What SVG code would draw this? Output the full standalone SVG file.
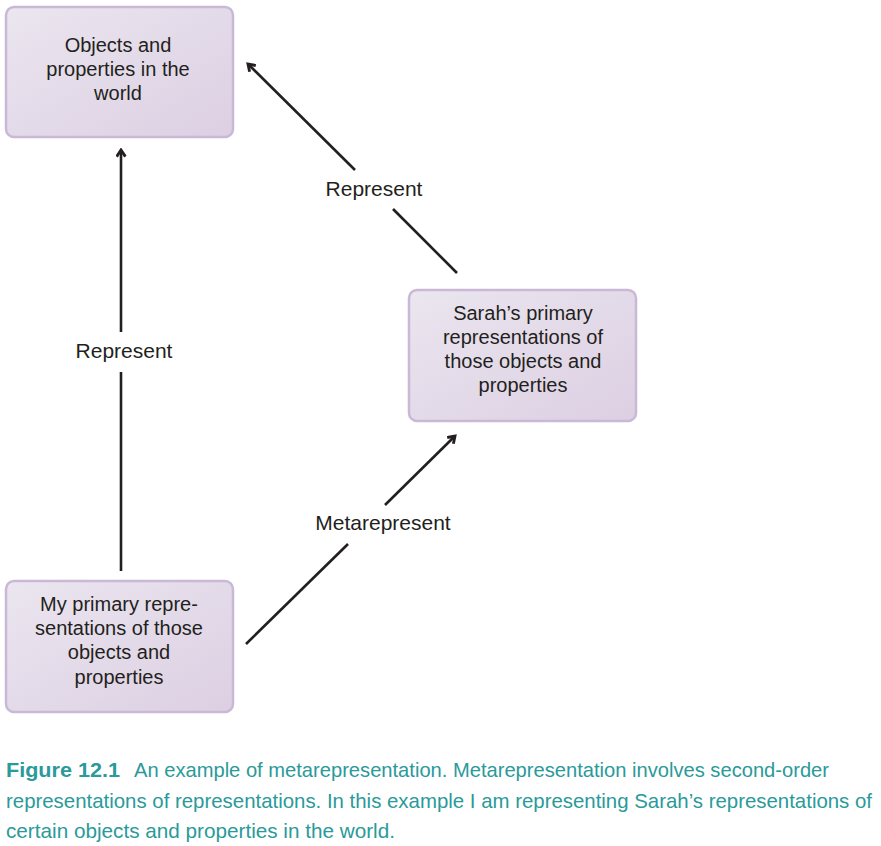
<svg xmlns="http://www.w3.org/2000/svg" width="881" height="846" viewBox="0 0 881 846">
<style>
.box{fill:url(#g);stroke:#c9b9d6;stroke-width:2.5}
.t{font-family:"Liberation Sans",Arial,sans-serif;font-size:20px;fill:#231f20;text-anchor:middle}
.l{font-size:21px}
.c{stroke:#231f20;stroke-width:2.6;fill:none}
.cap{font-family:"Liberation Sans Narrow","Liberation Sans",Arial,sans-serif;font-size:21px;fill:#2a9a9a}
</style>
<defs>
<linearGradient id="g" x1="0" y1="0" x2="1" y2="1">
<stop offset="0" stop-color="#ebe6f0"/>
<stop offset="1" stop-color="#dccfe2"/>
</linearGradient>
<marker id="a" viewBox="0 0 10 10" refX="8" refY="5" markerWidth="11" markerHeight="11" markerUnits="userSpaceOnUse" orient="auto">
<path d="M2,1 L8,5 L2,9" fill="none" stroke="#231f20" stroke-width="2.6"/>
</marker>
</defs>
<rect width="881" height="846" fill="#fff"/>
<g id="connectors">
<line class="c" x1="121" y1="571" x2="121" y2="372"/>
<line class="c" x1="121" y1="332" x2="121" y2="150" marker-end="url(#a)"/>
<line class="c" x1="457" y1="273" x2="393" y2="209"/>
<line class="c" x1="355" y1="170" x2="248" y2="64" marker-end="url(#a)"/>
<line class="c" x1="246" y1="644" x2="348" y2="544"/>
<line class="c" x1="385" y1="505" x2="455" y2="436" marker-end="url(#a)"/>
<text class="t l" x="124" y="358">Represent</text>
<text class="t l" x="374" y="196">Represent</text>
<text class="t l" x="383" y="530">Metarepresent</text>
</g>
<g id="world">
<rect class="box" x="6" y="7" width="227" height="130" rx="8"/>
<text class="t" x="118" y="52">Objects and</text>
<text class="t" x="118" y="76">properties in the</text>
<text class="t" x="118" y="100">world</text>
</g>
<g id="sarah">
<rect class="box" x="409" y="290" width="227" height="131" rx="8"/>
<text class="t" x="523" y="320">Sarah’s primary</text>
<text class="t" x="523" y="344">representations of</text>
<text class="t" x="523" y="368">those objects and</text>
<text class="t" x="523" y="392">properties</text>
</g>
<g id="mine">
<rect class="box" x="6" y="581" width="227" height="131" rx="8"/>
<text class="t" x="119" y="611">My primary repre-</text>
<text class="t" x="119" y="635">sentations of those</text>
<text class="t" x="119" y="659">objects and</text>
<text class="t" x="119" y="684">properties</text>
</g>
<g id="caption">
<text class="cap" x="6" y="777" font-weight="bold" textLength="114" lengthAdjust="spacingAndGlyphs">Figure 12.1</text>
<text class="cap" x="134" y="777" textLength="695" lengthAdjust="spacingAndGlyphs">An example of metarepresentation. Metarepresentation involves second-order</text>
<text class="cap" x="6" y="808" textLength="866" lengthAdjust="spacingAndGlyphs">representations of representations. In this example I am representing Sarah’s representations of</text>
<text class="cap" x="6" y="838" textLength="389" lengthAdjust="spacingAndGlyphs">certain objects and properties in the world.</text>
</g>
</svg>
